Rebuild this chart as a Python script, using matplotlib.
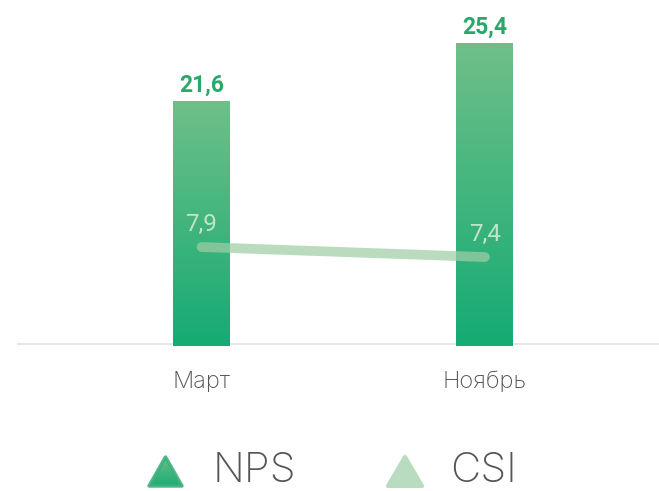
import matplotlib.pyplot as plt
import numpy as np
from matplotlib.colors import LinearSegmentedColormap
from matplotlib.patches import Polygon

plt.rcParams['font.family'] = ['Inter', 'DejaVu Sans']
num_font = ['Roboto', 'DejaVu Sans']

months = ['Март', 'Ноябрь']
nps = [21.6, 25.4]
csi = [7.9, 7.4]

top_col = '#6fbf88'
bot_col = '#15ab74'
grad = LinearSegmentedColormap.from_list('g', [bot_col, top_col])

fig = plt.figure(figsize=(6.59, 4.91), dpi=100)
ax = fig.add_axes([17 / 659, 145 / 491, 642 / 659, 346 / 491])
ymin, ymax = 5.55, 28.22
base = 5.68

x = np.arange(len(months))
w = 0.201
bars = ax.bar(x, nps, width=w, color='none', zorder=3)
for b, v in zip(bars, nps):
    x0 = b.get_x()
    im = ax.imshow(np.linspace(0, 1, 256).reshape(-1, 1), cmap=grad, origin='lower',
                   extent=[x0, x0 + w, ymin, v], aspect='auto', zorder=3)
    im.set_clip_path(b)
    ax.annotate(f'{v:.1f}'.replace('.', ','), (b.get_x() + w / 2, v), xytext=(0, 3),
                textcoords='offset points', ha='center', va='bottom', family=num_font,
                fontsize=16.5, fontweight='bold', color='#2aa86b')
ax.axhline(base, color='#e2e2e2', linewidth=1.2, zorder=1)
ax.set_xlim(-0.651, 1.614)
ax.set_ylim(ymin, ymax)

for s in ax.spines.values():
    s.set_visible(False)
ax.set_yticks([])
ax.set_xticks(x)
ax.set_xticklabels(months, fontsize=17, color='#555555', fontweight='light')
ax.tick_params(axis='x', length=0, pad=18)

ax2 = ax.twinx()
ax2.set_ylim(2.96, 20.23)
ax2.axis('off')
ax2.plot(x, csi, color='#a0cda6', alpha=0.72, linewidth=7, solid_capstyle='round', zorder=4)
for xi, v in zip(x, csi):
    ax2.annotate(f'{v:.1f}'.replace('.', ','), (xi, v), xytext=(0, 8),
                 textcoords='offset points', ha='center', va='bottom', family=num_font,
                 fontsize=17.5, color='#c2e3c7')

# legend, in pixel coordinates of the bottom strip
lax = fig.add_axes([0, 0, 1, 74 / 491])
lax.axis('off')
tri_pts = [[149, 486], [165.5, 457], [182, 486]]
tri1 = Polygon(tri_pts, closed=True, facecolor='none', edgecolor='none')
lax.add_patch(tri1)
g = lax.imshow(np.linspace(0, 1, 64).reshape(-1, 1), cmap=grad, origin='lower',
               extent=[146, 185, 489, 454], aspect='auto')
g.set_clip_path(tri1)
lax.add_patch(Polygon(tri_pts, closed=True, facecolor='none', edgecolor='#3db07c',
                      linewidth=2.5, joinstyle='round', alpha=0.9))
lax.add_patch(Polygon([[388, 486], [405, 457], [422, 486]], closed=True, facecolor='#b9dcc0',
                      edgecolor='#b9dcc0', linewidth=3, joinstyle='round'))
lax.text(213, 471, 'NPS', fontsize=30, color='#555555', fontweight='light', va='center')
lax.text(450, 471, 'CSI', fontsize=30, color='#555555', fontweight='light', va='center')
lax.set_xlim(0, 659)
lax.set_ylim(491, 417)

fig.savefig('out.png', dpi=100)
